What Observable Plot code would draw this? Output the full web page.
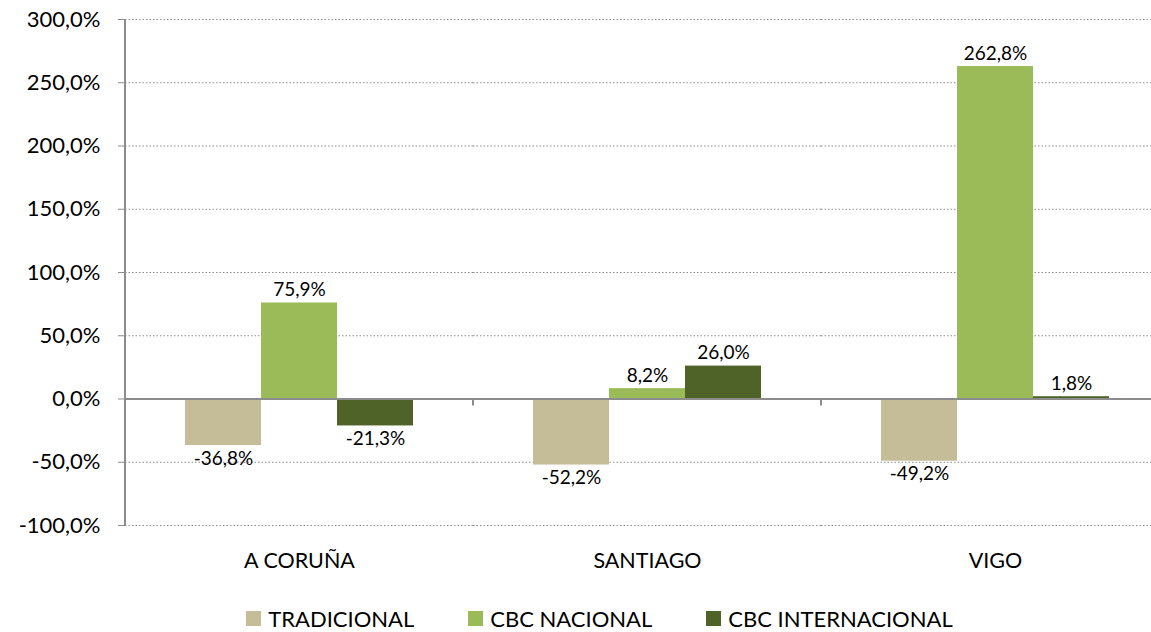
<!DOCTYPE html>
<html>
<head>
<meta charset="utf-8">
<script src="https://cdn.jsdelivr.net/npm/d3@7"></script>
<script src="https://cdn.jsdelivr.net/npm/@observablehq/plot@0.6"></script>
<style>
  html, body { margin: 0; padding: 0; background: #fff; overflow: hidden; }
  #legend { display: flex; justify-content: center; align-items: center; height: 28px;
            font-family: Lato, sans-serif; font-size: 22px; color: #000; padding-left: 48px; }
  .item { display: flex; align-items: center; margin: 0 27px; }
  .sw { width: 15px; height: 15px; margin-right: 7px; }
</style>
</head>
<body>
<div id="chart"></div>
<div id="legend"></div>
<script>
const cities = ["A CORUÑA", "SANTIAGO", "VIGO"];
const series = ["TRADICIONAL", "CBC NACIONAL", "CBC INTERNACIONAL"];
const tradicional = [-36.8, -52.2, -49.2];
const cbcNacional = [75.9, 8.2, 262.8];
const cbcInternacional = [-21.3, 26.0, 1.8];
const yTicks = [-100, -50, 0, 50, 100, 150, 200, 250, 300];
const colors = ["#C4BD97", "#9BBB59", "#4F6228"];

const seriesValues = [tradicional, cbcNacional, cbcInternacional];
const data = cities.flatMap((c, i) => series.map((s, j) => ({city: c, serie: s, value: seriesValues[j][i]})));
const fmt = v => v.toFixed(1).replace(".", ",") + "%";

const chart = Plot.plot({
  width: 1151, height: 604,
  marginLeft: 125, marginRight: -18, marginTop: 19, marginBottom: 79,
  style: {fontFamily: "Lato, sans-serif", fontSize: "19px", background: "white", color: "black", overflow: "visible"},
  fx: {domain: cities, padding: 0, label: null, axis: null},
  x: {domain: series, paddingInner: 0, paddingOuter: 0.76, axis: null},
  y: {domain: [-100, 300], axis: null},
  color: {domain: series, range: colors},
  marks: [
    Plot.ruleY(yTicks.filter(v => v !== 0), {stroke: "#8c8c8c", strokeDasharray: "1.5,2", strokeWidth: 1.2}),
    Plot.barY(data, {fx: "city", x: "serie", y: "value", fill: "serie"}),
    Plot.ruleY([0], {stroke: "#8c8c8c", strokeWidth: 2}),
    Plot.text(data.filter(d => d.value >= 0), {fx: "city", x: "serie", y: "value", text: d => fmt(d.value), dy: -13, fontSize: 19}),
    Plot.text(data.filter(d => d.value < 0), {fx: "city", x: "serie", y: "value", text: d => fmt(d.value), dy: 13, fontSize: 19}),
    Plot.axisY({ticks: yTicks, tickFormat: fmt, tickSize: 7, tickPadding: 18, stroke: "#8c8c8c", fill: "black", fontSize: 22, label: null}),
    Plot.axisFx({anchor: "bottom", tickSize: 0, tickPadding: 27, fontSize: 21.5, fill: "black", label: null})
  ]
});
document.getElementById("chart").appendChild(chart);

// axis line and category boundary ticks, positioned through Plot's own scales
const fx = chart.scale("fx");
const y = chart.scale("y");
const svg = d3.select(chart);
const g = svg.append("g").attr("stroke", "#8c8c8c").attr("stroke-width", 2);
const x0 = fx.apply(cities[0]);
g.append("line").attr("x1", x0).attr("x2", x0).attr("y1", y.apply(300)).attr("y2", y.apply(-100));
cities.slice(1).forEach(c => {
  const xx = fx.apply(c);
  g.append("line").attr("x1", xx).attr("x2", xx).attr("y1", y.apply(0)).attr("y2", y.apply(0) + 7);
});

const legend = document.getElementById("legend");
series.forEach((s, i) => {
  const it = document.createElement("div");
  it.className = "item";
  it.innerHTML = `<span class="sw" style="background:${colors[i]}"></span><span>${s}</span>`;
  legend.appendChild(it);
});
</script>
</body>
</html>
